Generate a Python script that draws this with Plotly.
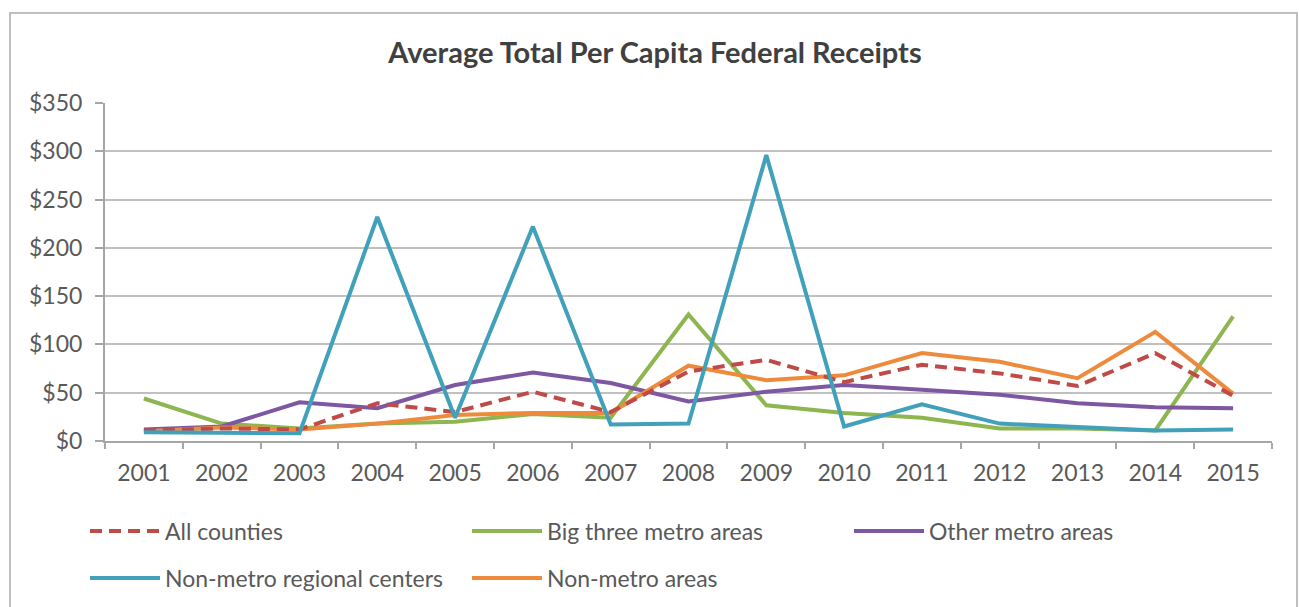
import plotly.graph_objects as go

years = [str(y) for y in range(2001, 2016)]

all_counties = [11, 13, 12, 39, 30, 51, 30, 72, 84, 61, 79, 70, 57, 91, 47]
big_three = [44, 18, 13, 18, 20, 28, 24, 131, 37, 29, 24, 13, 13, 11, 129]
other_metro = [12, 15, 40, 34, 58, 71, 60, 41, 51, 58, 53, 48, 39, 35, 34]
nonmetro_centers = [9, 8, 8, 232, 24, 222, 17, 18, 296, 15, 38, 18, 15, 11, 12]
nonmetro_areas = [10, 14, 12, 18, 27, 29, 29, 78, 63, 68, 91, 82, 65, 113, 49]

y_ticks = [0, 50, 100, 150, 200, 250, 300, 350]
y_tick_text = ["$" + str(v) for v in y_ticks]

FONT = "Lato"
TEXT = "#595959"

series = [
    ("Big three metro areas", big_three, "#8DB550", "solid", "legend"),
    ("Other metro areas", other_metro, "#7D57A2", "solid", "legend"),
    ("Non-metro areas", nonmetro_areas, "#EE8A3C", "solid", "legend2"),
    ("All counties", all_counties, "#BE4B48", "12px,7px", "legend"),
    ("Non-metro regional centers", nonmetro_centers, "#41A0BA", "solid", "legend2"),
]

# legend order within each row
rank = {
    "All counties": 1,
    "Big three metro areas": 2,
    "Other metro areas": 3,
    "Non-metro regional centers": 1,
    "Non-metro areas": 2,
}

fig = go.Figure()
for name, vals, color, dash, leg in series:
    fig.add_trace(go.Scatter(
        x=years, y=vals, name=name, mode="lines",
        line=dict(color=color, width=4, dash=dash),
        legend=leg, legendrank=rank[name],
    ))

L, R, T, B = 105, 27, 103, 166
W, H = 1299, 607
pw, ph = W - L - R, H - T - B

def px(x):
    return (x - L) / pw

def py(y):
    return (H - B - y) / ph

legend_common = dict(
    orientation="h",
    xanchor="left", yanchor="middle",
    font=dict(family=FONT, size=23, color=TEXT),
    entrywidth=297, entrywidthmode="pixels",
    itemwidth=70,
    bgcolor="rgba(0,0,0,0)",
    traceorder="normal",
)

fig.update_layout(
    width=W, height=H,
    margin=dict(l=L, r=R, t=T, b=B, autoexpand=False),
    paper_bgcolor="white", plot_bgcolor="white",
    font=dict(family=FONT, color=TEXT),
    title=dict(
        text="<b>Average Total Per Capita Federal Receipts</b>",
        x=655 / W, xanchor="center", xref="container",
        y=1 - 53 / H, yanchor="middle", yref="container",
        font=dict(family=FONT, size=29, color="#404040"),
    ),
    legend=dict(x=px(85), y=py(531), **legend_common),
    legend2=dict(x=px(85), y=py(578), **legend_common),
    xaxis=dict(
        type="category", range=[-0.5, 14.5],
        tickson="boundaries", ticks="outside", ticklen=6,
        tickcolor="#A6A6A6", tickwidth=2,
        showline=True, linecolor="#A6A6A6", linewidth=2,
        showgrid=False, automargin=False,
        ticklabelstandoff=10,
        tickfont=dict(family=FONT, size=23, color=TEXT),
    ),
    yaxis=dict(
        range=[0, 350], tickvals=y_ticks, ticktext=y_tick_text,
        ticks="outside", ticklen=8, tickcolor="#A6A6A6", tickwidth=2,
        showline=True, linecolor="#A6A6A6", linewidth=2,
        showgrid=True, gridcolor="#C0C0C0", gridwidth=2,
        zeroline=False, automargin=False,
        ticklabelstandoff=8,
        tickfont=dict(family=FONT, size=23, color=TEXT),
    ),
    shapes=[dict(
        type="rect", xref="paper", yref="paper",
        x0=px(10), x1=px(1297), y0=py(640), y1=py(13),
        line=dict(color="#BFBFBF", width=2), fillcolor="rgba(0,0,0,0)",
        layer="below",
    )],
)

fig.write_html("out.html")
